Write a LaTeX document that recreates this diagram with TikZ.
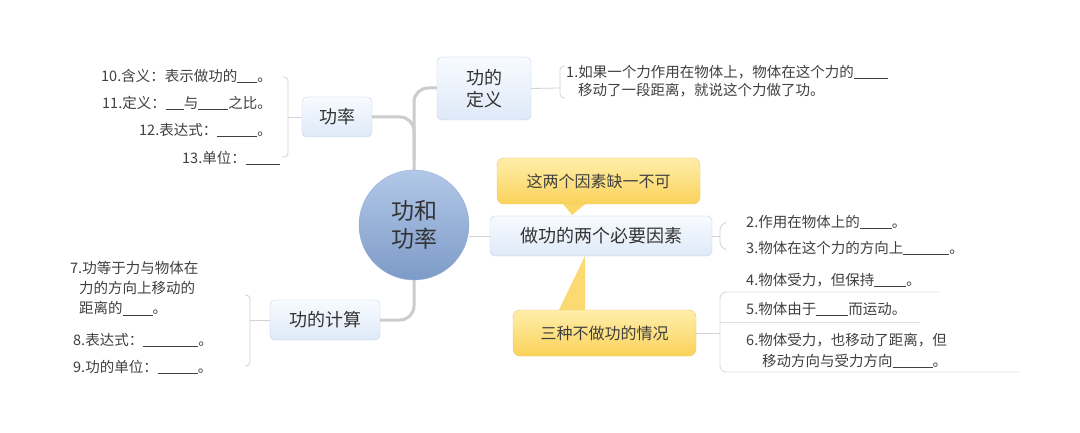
\documentclass[tikz,border=0pt]{standalone}
\usepackage{fontspec}
\setmainfont{Noto Sans CJK SC}
\definecolor{bxtop}{RGB}{248,251,255}
\definecolor{bxbot}{RGB}{222,233,248}
\definecolor{bxdraw}{RGB}{195,210,230}
\definecolor{ctop}{RGB}{178,200,232}
\definecolor{cbot}{RGB}{125,155,200}
\definecolor{ytop}{RGB}{255,238,170}
\definecolor{ybot}{RGB}{250,210,90}
\definecolor{ydraw}{RGB}{235,200,110}
\begin{document}
\begin{tikzpicture}[x=1pt,y=-1pt,
 bluebox/.style={draw=bxdraw,rounded corners=5pt,top color=bxtop,bottom color=bxbot,font=\fontsize{18}{22}\selectfont,text=black!80,align=center,inner sep=0pt},
 ybox/.style={draw=ydraw,rounded corners=7pt,top color=ytop,bottom color=ybot,font=\fontsize{16}{19}\selectfont,text=black!75,inner sep=0pt},
 item/.style={font=\fontsize{14.5}{19}\selectfont,text=black!75,inner sep=0pt,align=left},
 trunk/.style={draw=gray!40,line width=3pt},
 thin/.style={draw=gray!35,line width=0.8pt}]
\useasboundingbox (0,0) rectangle (1080,433);
\fill[white] (0,0) rectangle (1080,433);
% trunk
\draw[trunk,rounded corners=14pt] (437,88) -- (414,88) -- (414,320) -- (380,320);
\draw[trunk,rounded corners=14pt] (372,117) -- (414,117) -- (414,160);
\draw[thin] (469,236) -- (490,236);
% callout pointers
\fill[ybot!80!ytop] (560,200) -- (590,200) -- (572,215) -- cycle;
\fill[ybot!70!ytop] (585,256) -- (555,318) -- (585,318) -- cycle;
% nodes
\node[circle,minimum size=110pt,draw=cbot!80,top color=ctop,bottom color=cbot,font=\fontsize{23}{28}\selectfont,align=center,text=black!80] (c) at (414,225) {功和\\功率};
\node[bluebox,minimum width=94pt,minimum height=63pt] (def) at (484,88.5) {功的\\定义};
\node[bluebox,minimum width=70pt,minimum height=40pt] (gl) at (337,117) {功率};
\node[bluebox,minimum width=222pt,minimum height=40pt] (ys) at (601,236) {做功的两个必要因素};
\node[bluebox,minimum width=110pt,minimum height=40pt] (js) at (325,320) {功的计算};
\node[ybox,minimum width=203pt,minimum height=46pt] (y1) at (598.5,181) {这两个因素缺一不可};
\node[ybox,minimum width=183pt,minimum height=46pt] (y2) at (604.5,333) {三种不做功的情况};
% definition
\draw[thin] (def.east) -- (560,88);
\draw[thin,rounded corners=4pt] (565,66) -- (560,66) -- (560,98) -- (565,98);
\node[item,anchor=west] (t1) at (566,72) {1.如果一个力作用在物体上，物体在这个力的\underline{\hspace{34pt}}};
\node[item,anchor=west] (t1b) at (578,90) {移动了一段距离，就说这个力做了功。};
% power items
\draw[thin] (gl.west) -- (288,117);
\draw[thin,rounded corners=4pt] (282,77) -- (288,77) -- (288,157) -- (282,157);
\node[item,anchor=east] (p10) at (272,76) {10.含义：表示做功的\underline{\hspace{20pt}}。};
\node[item,anchor=east] (p11) at (272,103) {11.定义：\underline{\hspace{18pt}}与\underline{\hspace{30pt}}之比。};
\node[item,anchor=east] (p12) at (272,130) {12.表达式：\underline{\hspace{40pt}}。};
\node[item,anchor=east] (p13) at (280,158) {13.单位：\underline{\hspace{34pt}}};
% calc items
\draw[thin] (js.west) -- (250,320);
\draw[thin,rounded corners=4pt] (245,295) -- (250,295) -- (250,366) -- (245,366);
\node[item,anchor=north west,text width=170pt,font=\fontsize{14.5}{20}\selectfont] (c7) at (70,261) {7.功等于力与物体在\\\hspace*{9pt}力的方向上移动的\\\hspace*{9pt}距离的\underline{\hspace{30pt}}。};
\node[item,anchor=west] (c8) at (73,340) {8.表达式：\underline{\hspace{55pt}}。};
\node[item,anchor=west] (c9) at (73,367) {9.功的单位：\underline{\hspace{40pt}}。};
% factor items
\draw[thin] (ys.east) -- (720,236);
\draw[thin,rounded corners=4pt] (726,222) -- (720,226) -- (720,246) -- (726,250);
\node[item,anchor=west] (f2) at (746,222) {2.作用在物体上的\underline{\hspace{32pt}}。};
\node[item,anchor=west] (f3) at (746,248) {3.物体在这个力的方向上\underline{\hspace{46pt}}。};
% three cases
\draw[thin] (y2.east) -- (720,333);
\node[item,anchor=west] (n4) at (746,280) {4.物体受力，但保持\underline{\hspace{32pt}}。};
\node[item,anchor=west] (n5) at (746,309) {5.物体由于\underline{\hspace{32pt}}而运动。};
\node[item,anchor=west] (n6) at (746,340) {6.物体受力，也移动了距离，但};
\node[item,anchor=west] (n6b) at (762,361) {移动方向与受力方向\underline{\hspace{40pt}}。};
\draw[thin,draw=gray!25,rounded corners=3pt] (940,292) -- (724,292) -- (720,296) -- (720,369) -- (724,372) -- (1020,372);
\draw[thin,draw=gray!25] (720,322) -- (920,322);
\end{tikzpicture}
\end{document}
